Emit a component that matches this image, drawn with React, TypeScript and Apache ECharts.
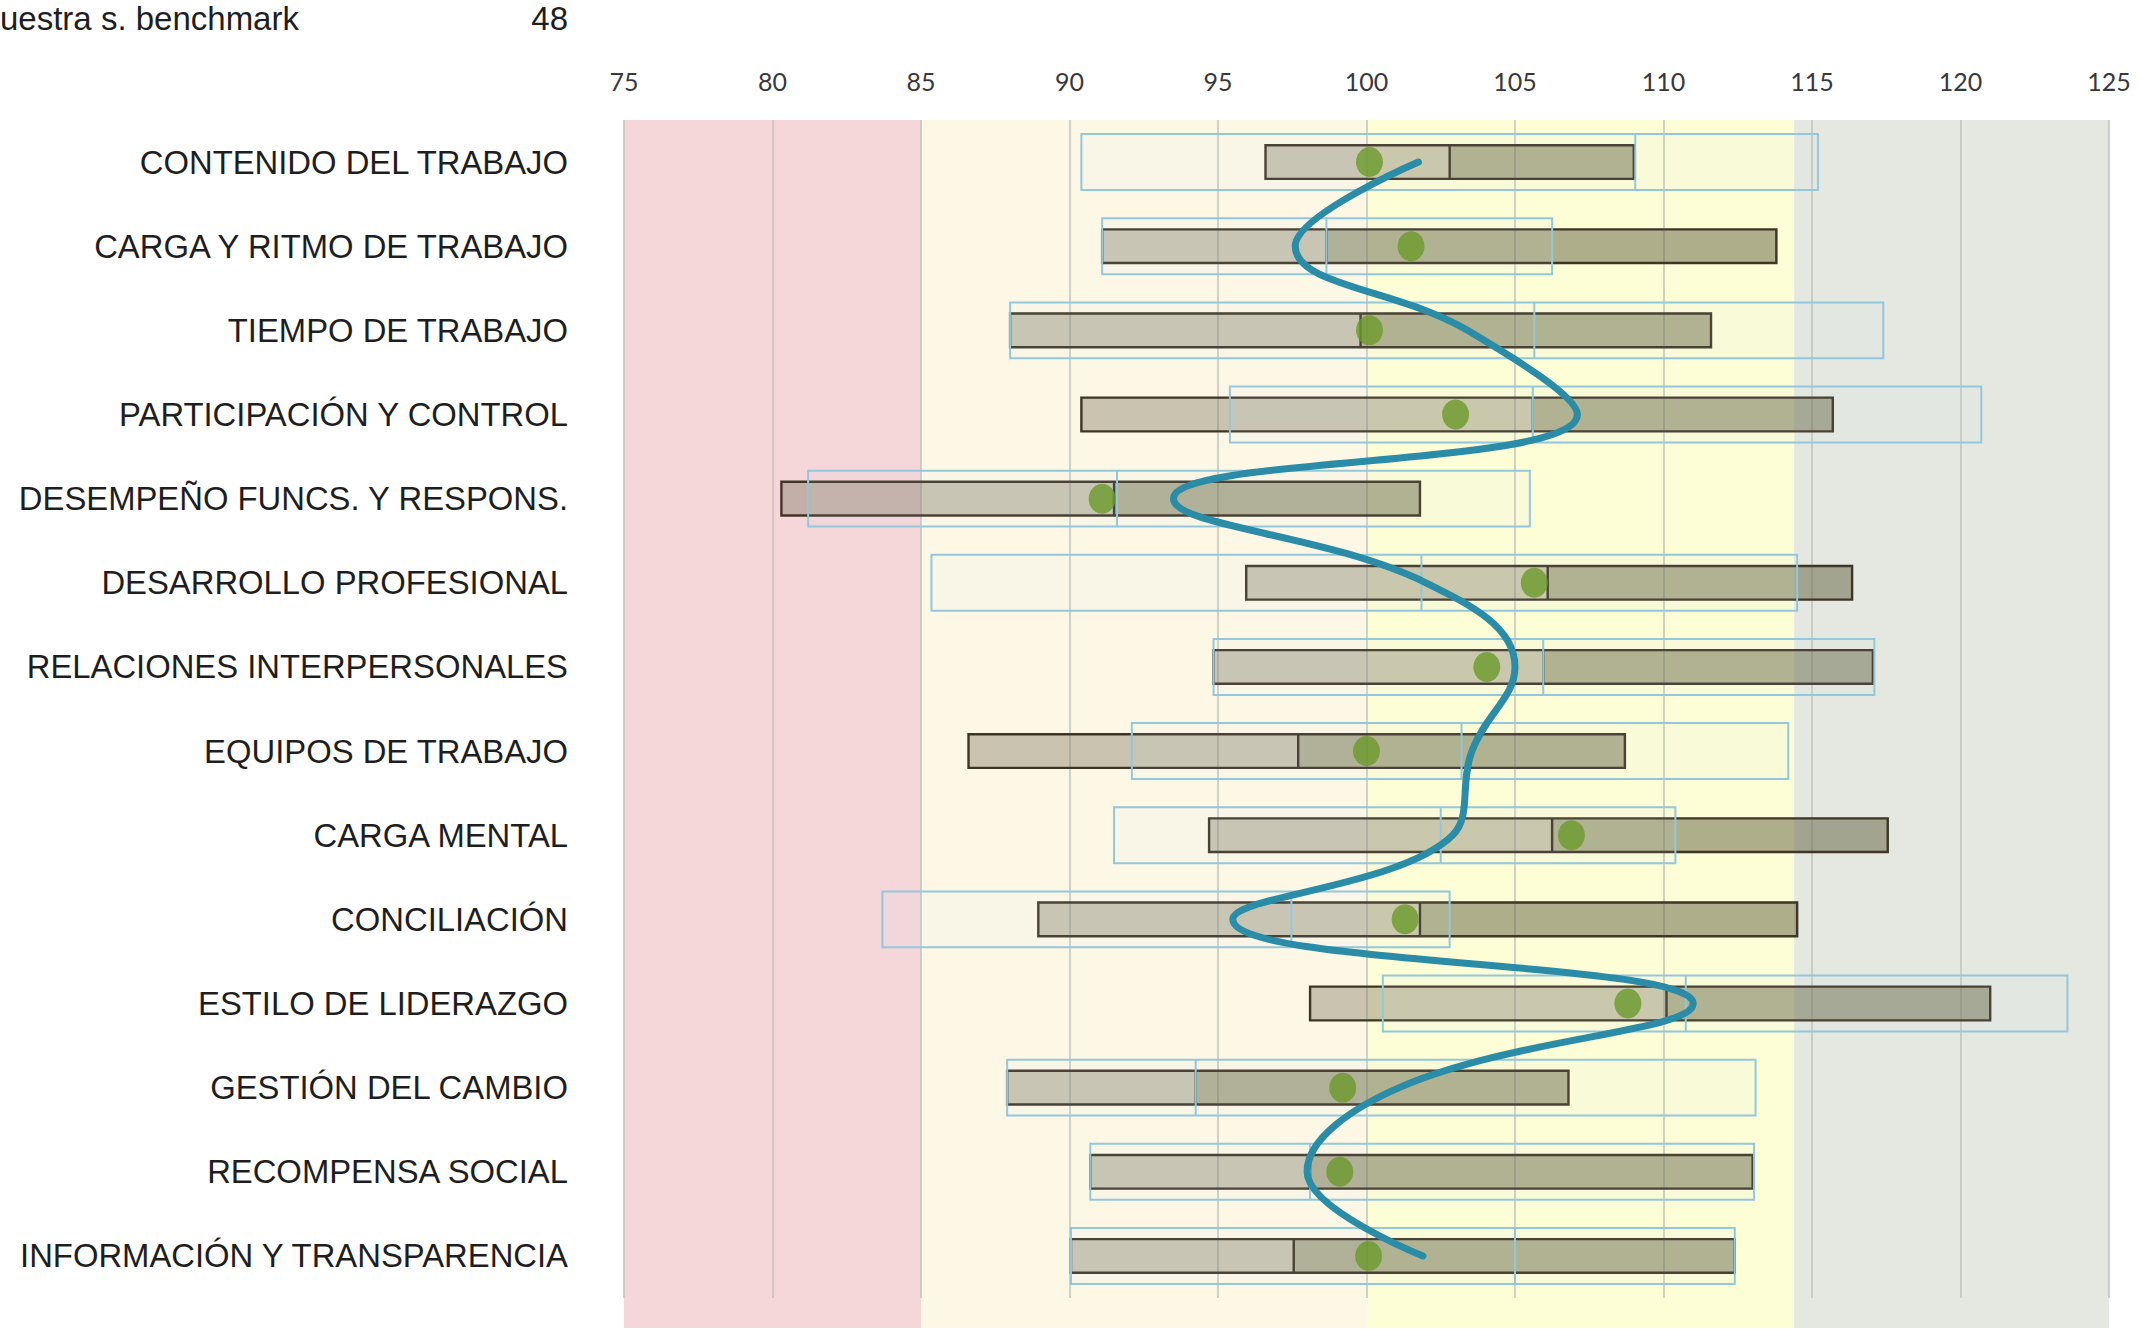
import React, { useEffect, useRef } from "react";
import * as echarts from "echarts";

const categories = [
  "CONTENIDO DEL TRABAJO",
  "CARGA Y RITMO DE TRABAJO",
  "TIEMPO DE TRABAJO",
  "PARTICIPACIÓN Y CONTROL",
  "DESEMPEÑO FUNCS. Y RESPONS.",
  "DESARROLLO PROFESIONAL",
  "RELACIONES INTERPERSONALES",
  "EQUIPOS DE TRABAJO",
  "CARGA MENTAL",
  "CONCILIACIÓN",
  "ESTILO DE LIDERAZGO",
  "GESTIÓN DEL CAMBIO",
  "RECOMPENSA SOCIAL",
  "INFORMACIÓN Y TRANSPARENCIA",
];

// sample range (grey bars): low / median / high
const grayLow = [96.6, 91.1, 88.0, 90.4, 80.3, 95.95, 94.85, 86.6, 94.7, 88.95, 98.1, 87.9, 90.7, 90.05];
const grayMed = [102.8, 98.65, 99.8, 105.6, 91.5, 106.1, 105.95, 97.7, 106.25, 101.8, 110.1, 94.25, 98.1, 97.55];
const grayHigh = [109.0, 113.8, 111.6, 115.7, 101.8, 116.35, 117.05, 108.7, 117.55, 114.5, 121.0, 106.8, 113.0, 112.4];

// benchmark range (blue boxes): low / median / high
const blueLow = [90.4, 91.1, 88.0, 95.4, 81.2, 85.35, 94.85, 92.1, 91.5, 83.7, 100.55, 87.9, 90.7, 90.05];
const blueMed = [109.05, 98.65, 105.65, 105.6, 91.6, 101.85, 105.95, 103.2, 102.5, 97.47, 110.75, 94.25, 98.1, 105.0];
const blueHigh = [115.2, 106.25, 117.4, 120.7, 105.5, 114.5, 117.1, 114.2, 110.4, 102.8, 123.6, 113.1, 113.05, 112.4];

// green dots
const dotValues = [100.1, 101.5, 100.1, 103.0, 91.1, 105.65, 104.05, 100.0, 106.9, 101.3, 108.8, 99.2, 99.1, 100.07];

// teal curve
const curveValues = [101.75, 97.6, 103.4, 107.1, 93.5, 102.0, 105.0, 103.55, 102.9, 95.5, 111.0, 101.1, 98.0, 101.9];

// background zones
const zoneStart = [75, 85, 100, 114.4];
const zoneEnd = [85, 100, 114.4, 125];
const zoneColors = ["#f5d6d9", "#fdf8e6", "#fdfdd6", "#e4e8e0"];

const headerLabel = "uestra s. benchmark";
const headerValue = "48";

export default function App() {
  const ref = useRef<HTMLDivElement>(null);

  useEffect(() => {
    if (!ref.current) return;
    const chart = echarts.init(ref.current, null, { renderer: "svg" });

    const grayData = categories.map((_, i) => [i, grayLow[i], grayMed[i], grayHigh[i]]);
    const blueData = categories.map((_, i) => [i, blueLow[i], blueMed[i], blueHigh[i]]);

    const option: any = {
      animation: false,
      backgroundColor: "#ffffff",
      graphic: [
        {
          type: "text",
          x: 0,
          y: 2,
          style: {
            text: headerLabel,
            fontSize: 33,
            fontFamily: "Liberation Sans",
            fill: "#1e1e1e",
            align: "left",
            verticalAlign: "top",
          },
        },
        {
          type: "text",
          x: 568,
          y: 2,
          style: {
            text: headerValue,
            fontSize: 33,
            fontFamily: "Liberation Sans",
            fill: "#1e1e1e",
            align: "right",
            verticalAlign: "top",
          },
        },
      ],
      grid: [
        { left: 624, right: 31, top: 120, height: 1178 },
        { left: 624, right: 31, top: 120, height: 1208 },
      ],
      xAxis: [
        {
          gridIndex: 0,
          type: "value",
          position: "top",
          min: 75,
          max: 125,
          interval: 5,
          axisLine: { show: false },
          axisTick: { show: false },
          axisLabel: { fontSize: 25, color: "#383838", fontFamily: "Lato", margin: 27 },
          splitLine: { show: true, lineStyle: { color: "#bfc3bb", width: 1.5 } },
        },
        { gridIndex: 1, type: "value", min: 75, max: 125, show: false },
      ],
      yAxis: [
        {
          gridIndex: 0,
          type: "category",
          inverse: true,
          data: categories,
          axisLine: { show: false },
          axisTick: { show: false },
          splitLine: { show: false },
          axisLabel: { fontSize: 32.8, color: "#1e1e1e", fontFamily: "Liberation Sans", margin: 56 },
        },
        { gridIndex: 1, type: "value", min: 0, max: 1, show: false },
      ],
      series: [
        {
          type: "custom",
          name: "zones",
          xAxisIndex: 1,
          yAxisIndex: 1,
          z: -1,
          silent: true,
          encode: { x: [0, 1] },
          data: zoneStart.map((s, i) => ({ value: [s, zoneEnd[i]], itemStyle: { color: zoneColors[i] } })),
          renderItem: (params: any, api: any) => {
            const a = api.coord([api.value(0), 0]);
            const b = api.coord([api.value(1), 1]);
            return {
              type: "rect",
              shape: { x: a[0], y: b[1], width: b[0] - a[0], height: a[1] - b[1] },
              style: { fill: api.visual("color") },
            };
          },
        },
        {
          type: "custom",
          name: "muestra",
          xAxisIndex: 0,
          yAxisIndex: 0,
          z: 3,
          encode: { x: [1, 2, 3], y: 0 },
          data: grayData,
          renderItem: (params: any, api: any) => {
            const yi = api.value(0);
            const lo = api.coord([api.value(1), yi]);
            const md = api.coord([api.value(2), yi]);
            const hi = api.coord([api.value(3), yi]);
            const h = api.size([0, 1])[1] * 0.4;
            const top = lo[1] - h / 2;
            return {
              type: "group",
              children: [
                { type: "rect", shape: { x: lo[0], y: top, width: md[0] - lo[0], height: h }, style: { fill: "rgba(128,122,100,0.42)" } },
                { type: "rect", shape: { x: md[0], y: top, width: hi[0] - md[0], height: h }, style: { fill: "rgba(98,95,62,0.5)" } },
                { type: "rect", shape: { x: lo[0], y: top, width: hi[0] - lo[0], height: h }, style: { fill: "none", stroke: "#3f3526", lineWidth: 2.4 } },
                { type: "line", shape: { x1: md[0], y1: top, x2: md[0], y2: top + h }, style: { stroke: "#3f3526", lineWidth: 2.4 } },
              ],
            };
          },
        },
        {
          type: "custom",
          name: "benchmark",
          xAxisIndex: 0,
          yAxisIndex: 0,
          z: 4,
          encode: { x: [1, 2, 3], y: 0 },
          data: blueData,
          renderItem: (params: any, api: any) => {
            const yi = api.value(0);
            const lo = api.coord([api.value(1), yi]);
            const md = api.coord([api.value(2), yi]);
            const hi = api.coord([api.value(3), yi]);
            const h = api.size([0, 1])[1] * 0.665;
            const top = lo[1] - h / 2;
            return {
              type: "group",
              children: [
                { type: "rect", shape: { x: lo[0], y: top, width: hi[0] - lo[0], height: h }, style: { fill: "rgba(200,232,245,0.08)", stroke: "#93c7db", lineWidth: 2 } },
                { type: "line", shape: { x1: md[0], y1: top, x2: md[0], y2: top + h }, style: { stroke: "#93c7db", lineWidth: 2 } },
              ],
            };
          },
        },
        {
          type: "scatter",
          name: "media",
          xAxisIndex: 0,
          yAxisIndex: 0,
          z: 5,
          symbol: "circle",
          symbolSize: [27, 30],
          itemStyle: { color: "#6b9a2b" },
          data: dotValues.map((v, i) => [v, i]),
        },
        {
          type: "line",
          name: "curva",
          xAxisIndex: 0,
          yAxisIndex: 0,
          z: 6,
          smooth: 0.42,
          symbol: "none",
          lineStyle: { color: "#2a8ca6", width: 7, cap: "round" },
          data: curveValues.map((v, i) => [v, i]),
        },
      ],
    };

    chart.setOption(option);
    return () => chart.dispose();
  }, []);

  return (
    <div
      ref={ref}
      style={{ position: "absolute", left: 0, top: 0, width: 2140, height: 1330 }}
    />
  );
}
